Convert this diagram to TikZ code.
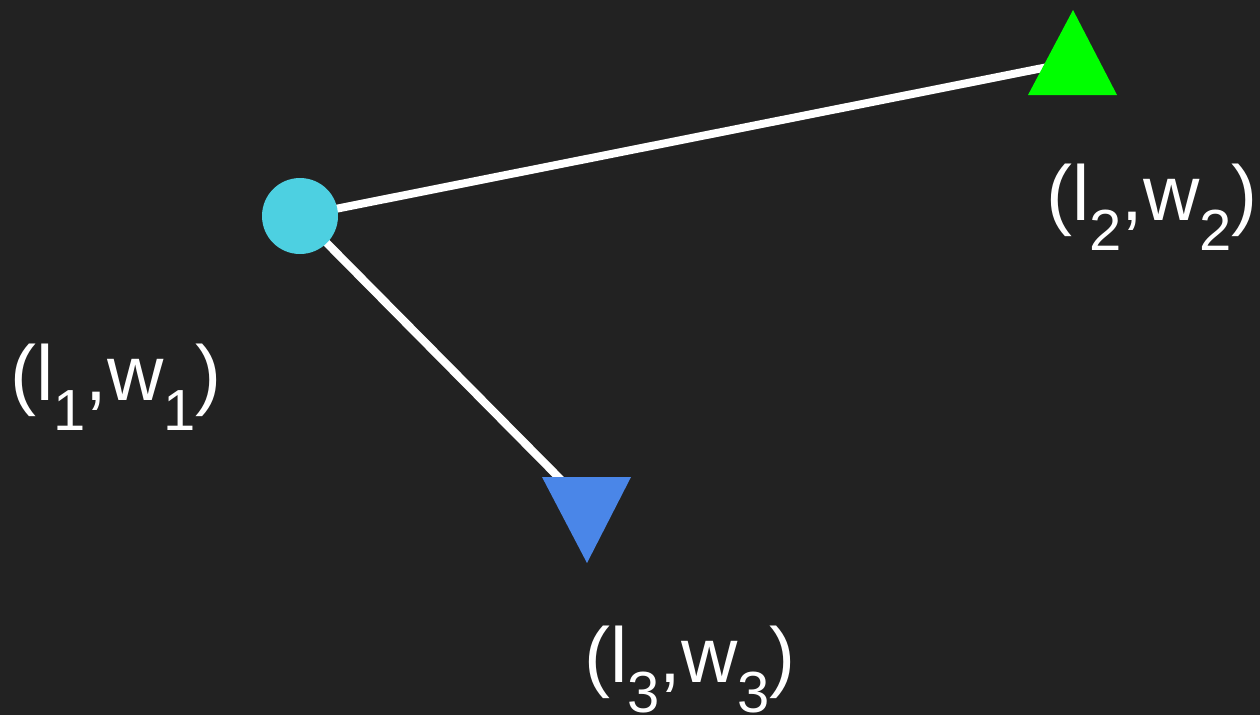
\documentclass[tikz,border=0pt]{standalone}
\usepackage{fontspec}
\setmainfont{Liberation Sans}
\usetikzlibrary{positioning}
\definecolor{bgdark}{HTML}{222222}
\definecolor{dotcyan}{HTML}{4DD0E1}
\definecolor{trigreen}{HTML}{00FF00}
\definecolor{triblue}{HTML}{4A86E8}
\newcommand{\subidx}[1]{\raisebox{-30pt}{\fontsize{58}{58}\selectfont #1}}

\begin{document}
\begin{tikzpicture}[x=1pt, y=-1pt,
  edge/.style={draw=white, line width=8pt},
  dot/.style={circle, fill=dotcyan, minimum size=76pt, inner sep=0pt},
  lbl/.style={text=white, font=\fontsize{78}{94}\selectfont, anchor=base, inner sep=0pt}]
\fill[bgdark] (0,0) rectangle (1260,715);
\coordinate (c1) at (300,216);
\coordinate (c2) at (1073,62);
\coordinate (c3) at (587,506);
\draw[edge] (c1) -- (c2);
\draw[edge] (c1) -- (c3);
\node[dot] (p1) at (c1) {};
\fill[trigreen] (1073,10) -- (1117,95) -- (1028,95) -- cycle;
\fill[triblue] (542,477) -- (631,477) -- (587,563) -- cycle;
\node[lbl] (l1) at (116,400) {(l\subidx{1},w\subidx{1})};
\node[lbl] (l2) at (1152,220) {(l\subidx{2},w\subidx{2})};
\node[lbl] (l3) at (690,682) {(l\subidx{3},w\subidx{3})};
\end{tikzpicture}
\end{document}
